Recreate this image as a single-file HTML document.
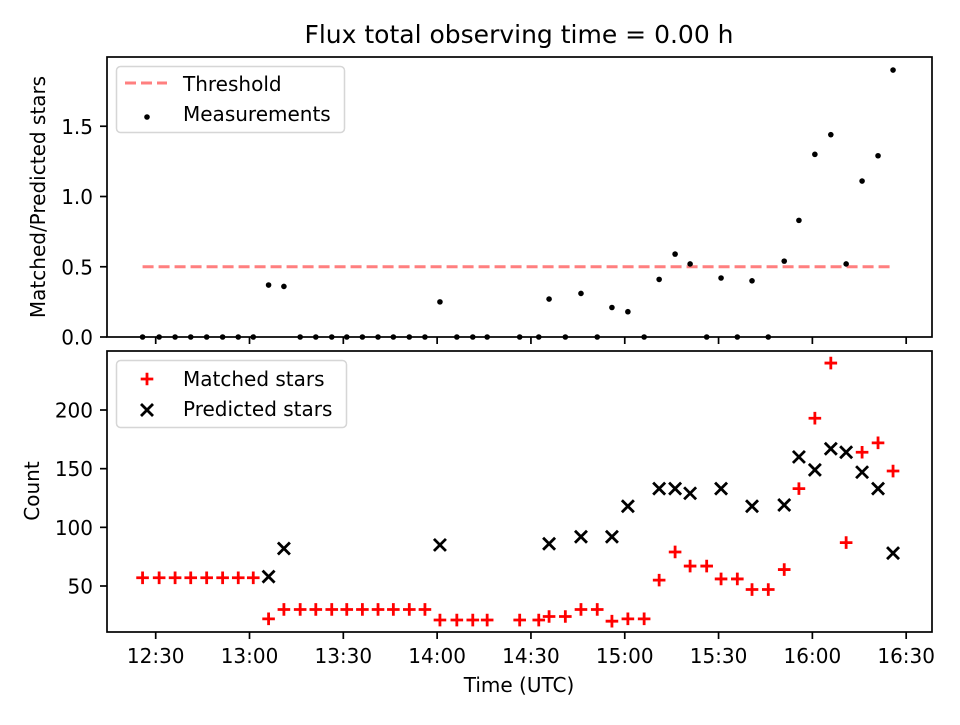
<!DOCTYPE html>
<html><head><meta charset="utf-8"><style>
body{margin:0;background:#fff;}
svg text{font-family:"DejaVu Sans","Liberation Sans",sans-serif;fill:#000;}
</style></head><body>
<svg id="chart" width="960" height="720" xmlns="http://www.w3.org/2000/svg">
<rect width="960" height="720" fill="#fff"/>
<text x="519" y="43" font-size="25" text-anchor="middle">Flux total observing time = 0.00 h</text>
<g id="gtop"></g><g id="gbot"></g>
<text transform="translate(45,197) rotate(-90)" font-size="20" text-anchor="middle">Matched/Predicted stars</text>
<text transform="translate(39,491) rotate(-90)" font-size="20" text-anchor="middle">Count</text>
<text x="519" y="692" font-size="20" text-anchor="middle">Time (UTC)</text>
</svg>
<script>
const times=[25.8,31.1,36.2,41.2,46.3,51.4,56.4,61.2,66.1,71.0,76.2,81.2,86.3,91.1,96.1,101.1,106.0,111.1,116.1,120.9,126.3,131.4,136.0,146.4,152.5,155.8,161.0,166.0,171.2,175.9,181.0,186.2,191.0,196.1,200.9,206.2,210.8,216.0,220.7,225.9,231.0,235.7,240.8,245.9,250.8,255.9,261.0,265.8];
const ratio=[0,0,0,0,0,0,0,0,0.37,0.36,0,0,0,0,0,0,0,0,0,0.25,0,0,0,0,0,0.27,0,0.31,0,0.21,0.18,0,0.41,0.59,0.52,0,0.42,0,0.40,0,0.54,0.83,1.30,1.44,0.52,1.11,1.29,1.90];
const matched=[57,57,57,57,57,57,57,57,22,30,30,30,30,30,30,30,30,30,30,21,21,21,21,21,21,24,24,30,30,20,22,22,55,79,67,67,56,56,47,47,64,133,193,240,87,164,172,148];
const predicted=[null,null,null,null,null,null,null,null,58,82,null,null,null,null,null,null,null,null,null,85,null,null,null,null,null,86,null,92,null,92,118,null,133,133,129,null,133,null,118,null,119,160,149,167,164,147,133,78];
const threshold=0.5;
const xTicks=[30,60,90,120,150,180,210,240,270];
const xTickLabels=["12:30","13:00","13:30","14:00","14:30","15:00","15:30","16:00","16:30"];
const topTicks=[0,0.5,1.0,1.5];
const botTicks=[50,100,150,200];

const NS="http://www.w3.org/2000/svg";
const L=107,R=932,T1=57,B1=337,T2=351,B2=632;
const X=m=>155.7+(m-30)*3.127;
const Y1=v=>337-v*140.5;
const Y2=v=>586-(v-50)*1.1733;
function mk(p,tag,a){const e=document.createElementNS(NS,tag);for(const k in a)e.setAttribute(k,a[k]);p.appendChild(e);return e;}
const gTop=document.getElementById('gtop'),gBot=document.getElementById('gbot');
const DASH='11,5';

let th=mk(gTop,'line',{x1:X(times[0]),x2:X(times[times.length-1]),y1:Y1(threshold),y2:Y1(threshold),stroke:'#ff7f7f','stroke-width':3,'stroke-dasharray':DASH});


times.forEach((t,i)=>{
  const c=mk(gTop,'circle',{cx:X(t),cy:Y1(ratio[i]),r:2.8,fill:'#000'});
  
  
});
times.forEach((t,i)=>{
  const x=X(t),y=Y2(matched[i]);
  const g=mk(gBot,'path',{d:`M${x-6.3},${y}H${x+6.3}M${x},${y-6.3}V${y+6.3}`,stroke:'#f00','stroke-width':2.8});
  
  
  if(predicted[i]!=null){
    const py=Y2(predicted[i]);
    const h=mk(gBot,'path',{d:`M${x-6},${py-6}L${x+6},${py+6}M${x-6},${py+6}L${x+6},${py-6}`,stroke:'#000','stroke-width':2.8});
    
    
  }
});
let f1=mk(gTop,'rect',{x:L,y:T1,width:R-L,height:B1-T1,fill:'none',stroke:'#000','stroke-width':1.7});


let f2=mk(gBot,'rect',{x:L,y:T2,width:R-L,height:B2-T2,fill:'none',stroke:'#000','stroke-width':1.7});


xTicks.forEach((m,i)=>{
  const x=X(m);
  mk(gTop,'line',{x1:x,x2:x,y1:B1,y2:B1+7,stroke:'#000','stroke-width':1.7});
  mk(gBot,'line',{x1:x,x2:x,y1:B2,y2:B2+7,stroke:'#000','stroke-width':1.7});
  const tx=mk(gBot,'text',{x:x,y:663,'font-size':20,'text-anchor':'middle'});
  tx.textContent=xTickLabels[i];
  
  
});
topTicks.forEach(v=>{
  const y=Y1(v);
  mk(gTop,'line',{x1:L-7,x2:L,y1:y,y2:y,stroke:'#000','stroke-width':1.7});
  const tx=mk(gTop,'text',{x:L-14,y:y+7.5,'font-size':20,'text-anchor':'end'});
  tx.textContent=v.toFixed(1);
  
  
});
botTicks.forEach(v=>{
  const y=Y2(v);
  mk(gBot,'line',{x1:L-7,x2:L,y1:y,y2:y,stroke:'#000','stroke-width':1.7});
  const tx=mk(gBot,'text',{x:L-14,y:y+7.5,'font-size':20,'text-anchor':'end'});
  tx.textContent=String(v);
  
  
});
let lg1=mk(gTop,'rect',{x:116.5,y:66.5,width:228,height:66,rx:4,fill:'#fff',stroke:'#d6d6d6','stroke-width':1.5});


mk(gTop,'line',{x1:125,x2:167,y1:83,y2:83,stroke:'#ff7f7f','stroke-width':3,'stroke-dasharray':DASH});
mk(gTop,'circle',{cx:147,cy:117,r:2.8,fill:'#000'});
let t1=mk(gTop,'text',{x:183,y:91,'font-size':20});t1.textContent='Threshold';


let t2=mk(gTop,'text',{x:183,y:121,'font-size':20});t2.textContent='Measurements';


let lg2=mk(gBot,'rect',{x:116.5,y:360.5,width:230,height:67,rx:4,fill:'#fff',stroke:'#d6d6d6','stroke-width':1.5});


mk(gBot,'path',{d:'M140.7,379H153.3M147,372.7V385.3',stroke:'#f00','stroke-width':2.8});
mk(gBot,'path',{d:'M141,404L153,416M141,416L153,404',stroke:'#000','stroke-width':2.8});
let t3=mk(gBot,'text',{x:183,y:386,'font-size':20});t3.textContent='Matched stars';


let t4=mk(gBot,'text',{x:183,y:416,'font-size':20});t4.textContent='Predicted stars';


</script>
</body></html>
